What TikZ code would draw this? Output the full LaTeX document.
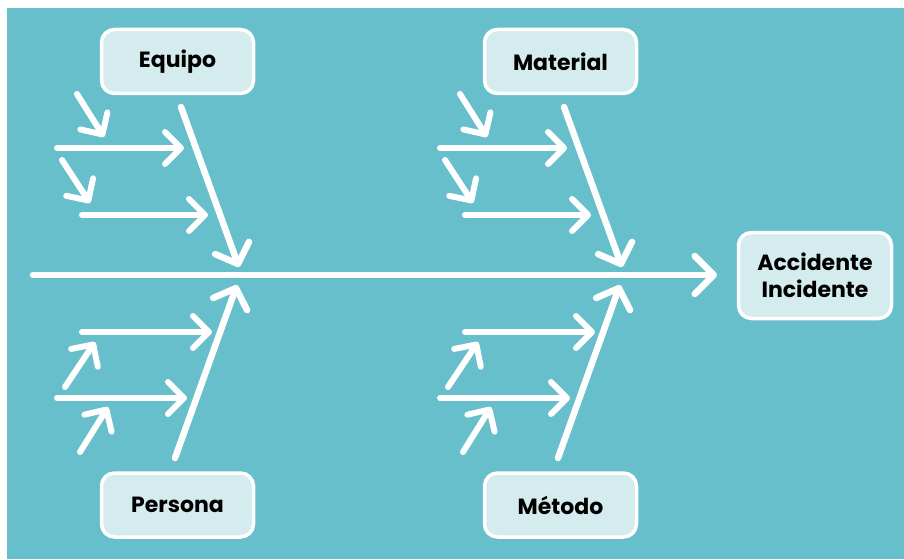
\documentclass[tikz,border=0pt]{standalone}
\usepackage{fontspec}
\setmainfont{Poppins}
\newfontfamily\labelfont{Poppins}
\usepackage{xcolor}
\usetikzlibrary{arrows.meta,positioning,calc}

\definecolor{fondo}{HTML}{66BFCB}
\definecolor{caja}{HTML}{D4ECEE}

\begin{document}
\begin{tikzpicture}[x=1pt,y=-1pt,
spine/.style={white,line width=6.5pt,line cap=round,-{Straight Barb[length=19pt,width=38pt,line cap=round,line join=round]}},
bone/.style={white,line width=6.5pt,line cap=round,-{Straight Barb[length=17pt,width=36pt,line cap=round,line join=round]}},
twig/.style={white,line width=6pt,line cap=round,-{Straight Barb[length=16pt,width=32pt,line cap=round,line join=round]}},
cat/.style={draw=white,line width=3.5pt,fill=caja,rounded corners=13pt,minimum width=152pt,minimum height=64pt,font=\labelfont\bfseries\fontsize{22}{26}\selectfont},
eff/.style={cat,minimum width=153pt,minimum height=86pt,align=center,font=\labelfont\bfseries\fontsize{22}{27}\selectfont}]

\useasboundingbox (0,0) rectangle (904,559);
\fill[fondo] (7,8) rectangle (904,559);

% spine and effect
\node[eff] (acc) at (815,275.5) {Accidente\\Incidente};
\coordinate (s0) at (33,275);
\coordinate (s1) at (717,275);
\draw[spine] (s0) -- (s1);

% causes
\node[cat] (equipo) at (177.5,61.5) {Equipo};
\node[cat] (material) at (560.5,61.5) {Material};
\node[cat] (persona) at (177.5,505) {Persona};
\node[cat] (metodo) at (560.5,505) {Método};

\foreach \c/\dx in {a/0,b/383}{
\begin{scope}[xshift=\dx]
% upper branch
\coordinate (\c-u0) at (181,107);
\coordinate (\c-u1) at (239,267);
\coordinate (\c-uh1s) at (57,148);
\coordinate (\c-uh1e) at (184,148);
\coordinate (\c-uh2s) at (82,215);
\coordinate (\c-uh2e) at (208,215);
\coordinate (\c-ud1s) at (77,94);
\coordinate (\c-ud1e) at (104,137);
\coordinate (\c-ud2s) at (62,160);
\coordinate (\c-ud2e) at (90,203);
% lower branch
\coordinate (\c-l0) at (175,458);
\coordinate (\c-l1) at (237,285);
\coordinate (\c-lh1s) at (82,332);
\coordinate (\c-lh1e) at (212,332);
\coordinate (\c-lh2s) at (57,398);
\coordinate (\c-lh2e) at (187,398);
\coordinate (\c-ld1s) at (65,387);
\coordinate (\c-ld1e) at (95,342);
\coordinate (\c-ld2s) at (80,452);
\coordinate (\c-ld2e) at (108,407);
\draw[bone] (\c-u0) -- (\c-u1);
\draw[bone] (\c-l0) -- (\c-l1);
\foreach \t in {uh1,uh2,ud1,ud2,lh1,lh2,ld1,ld2}
  \draw[twig] (\c-\t s) -- (\c-\t e);
\end{scope}
}
\end{tikzpicture}
\end{document}
